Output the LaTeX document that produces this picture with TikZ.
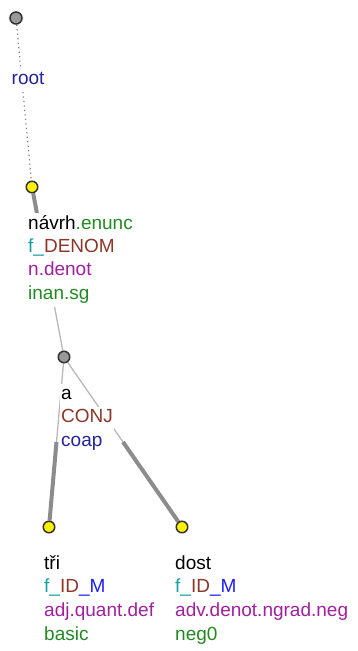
\documentclass[tikz,border=0pt]{standalone}
\usepackage{fontspec}
\setmainfont{Liberation Sans}
\usetikzlibrary{positioning,calc,backgrounds}
\definecolor{tgreen}{HTML}{238A23}
\definecolor{tteal}{HTML}{16A0A0}
\definecolor{tbrown}{HTML}{8B3828}
\definecolor{tpurple}{HTML}{A020A0}
\definecolor{tnavy}{HTML}{23239C}
\definecolor{tblue}{HTML}{1E1EF5}
\definecolor{lgray}{HTML}{B8B8B8}
\definecolor{dgray}{HTML}{8C8C8C}

\begin{document}
\begin{tikzpicture}[x=1pt, y=-1pt,
  every node/.style={font=\fontsize{19}{22}\selectfont},
  tnode/.style={circle, draw=black!80, line width=1.5pt, fill=yellow, minimum size=11.5pt, inner sep=0pt},
  cnode/.style={tnode, fill=black!40},
  lbl/.style={anchor=base west, fill=white, inner xsep=1pt, inner ysep=0pt, text height=16pt, text depth=7.6pt},
  thinedge/.style={draw=lgray, line width=1.3pt},
  thickedge/.style={draw=dgray, line width=4pt}]
  \useasboundingbox (0,0) rectangle (357,651);
  % tree nodes
  \node[cnode, minimum size=12pt] (root) at (16,18) {};
  \node[tnode] (navrh) at (32,187) {};
  \node[cnode] (a) at (64,357) {};
  \node[tnode] (tri) at (49,527) {};
  \node[tnode] (dost) at (182,527) {};
  % edges, half thin and half thick
  \begin{scope}[on background layer]
    \draw[thinedge, draw=black!50, line width=1.2pt, dash pattern=on 1.2pt off 3.3pt] (root) -- (navrh);
    \draw[thickedge] (navrh) -- ($(navrh.center)!.5!(a.center)$);
    \draw[thinedge] ($(navrh.center)!.5!(a.center)$) -- (a);
    \draw[thinedge] (a) -- ($(a.center)!.5!(tri.center)$);
    \draw[thickedge] ($(a.center)!.5!(tri.center)$) -- (tri);
    \draw[thinedge] (a) -- ($(a.center)!.5!(dost.center)$);
    \draw[thickedge] ($(a.center)!.5!(dost.center)$) -- (dost);
  \end{scope}
  % labels
  \node[lbl, text=tnavy] (root-l0) at (10.5,84) {root};
  \foreach \txt [count=\k from 0] in {%
      {návrh\textcolor{tgreen}{.enunc}},
      {\textcolor{tteal}{f\_}\textcolor{tbrown}{DENOM}},
      {\textcolor{tpurple}{n.denot}},
      {\textcolor{tgreen}{inan.sg}}}
    \node[lbl] (navrh-l\k) at (27,{229+23.4*\k}) {\txt};
  \foreach \txt [count=\k from 0] in {%
      {a},
      {\textcolor{tbrown}{CONJ}},
      {\textcolor{tnavy}{coap}}}
    \node[lbl] (a-l\k) at (60,{399.5+23.4*\k}) {\txt};
  \foreach \txt [count=\k from 0] in {%
      {tři},
      {\textcolor{tteal}{f\_}\textcolor{tbrown}{ID}\textcolor{tblue}{\_M}},
      {\textcolor{tpurple}{adj.quant.def}},
      {\textcolor{tgreen}{basic}}}
    \node[lbl] (tri-l\k) at (43,{569+23.8*\k}) {\txt};
  \foreach \txt [count=\k from 0] in {%
      {dost},
      {\textcolor{tteal}{f\_}\textcolor{tbrown}{ID}\textcolor{tblue}{\_M}},
      {\textcolor{tpurple}{adv.denot.ngrad.neg}},
      {\textcolor{tgreen}{neg0}}}
    \node[lbl] (dost-l\k) at (174,{569+23.8*\k}) {\txt};
\end{tikzpicture}
\end{document}
